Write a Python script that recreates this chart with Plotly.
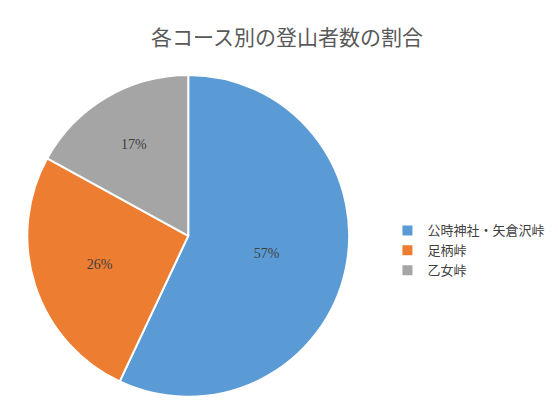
import plotly.graph_objects as go

title = "各コース別の登山者数の割合"
labels = ["公時神社・矢倉沢峠", "足柄峠", "乙女峠"]
values = [57, 26, 17]
colors = ["#5B9BD5", "#ED7D31", "#A5A5A5"]

fig = go.Figure(go.Pie(
    labels=labels, values=values, sort=False, direction="clockwise", rotation=0,
    marker=dict(colors=colors, line=dict(color="white", width=2)),
    texttemplate="%{percent:.0%}", textposition="inside", insidetextorientation="horizontal",
    textfont=dict(family="Liberation Serif", size=14, color="#404040"),
    domain=dict(x=[0.034, 0.612], y=[0.07, 0.84]),
))
fig.update_layout(
    width=558, height=418, margin=dict(l=0, r=0, t=0, b=0),
    paper_bgcolor="white",
    title=dict(text=title, x=0.5, xanchor="center", y=0.93, yanchor="middle",
               font=dict(family="Noto Sans CJK JP", size=21, color="#595959")),
    legend=dict(x=0.68, y=0.42, yanchor="middle", tracegroupgap=0,
                font=dict(family="Noto Sans CJK JP", size=13, color="#404040")),
)
fig.write_html("out.html")
